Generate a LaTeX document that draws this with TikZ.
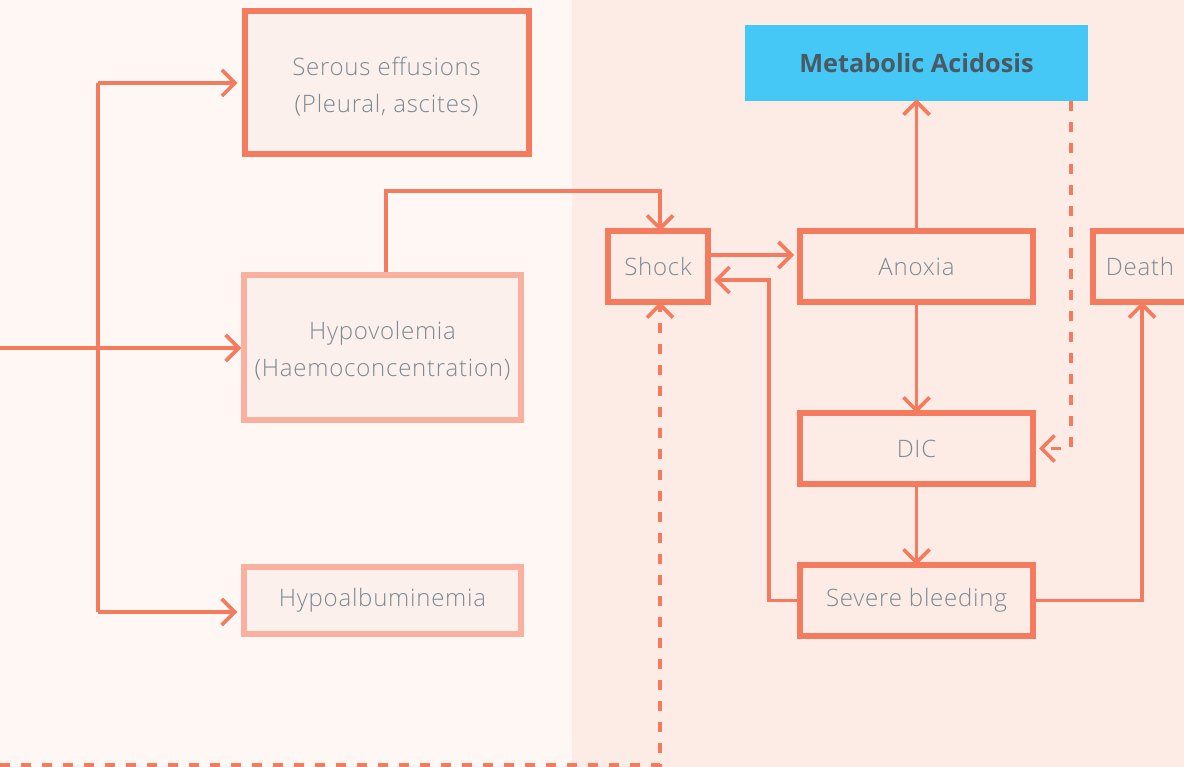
\documentclass[tikz,border=0pt]{standalone}
\usepackage{fontspec}
\setmainfont{Open Sans}
\IfFontExistsTF{Open Sans Light}
  {\newfontfamily\labelfont{Open Sans Light}[LetterSpace=3.2]}
  {\newfontfamily\labelfont{Open Sans}[LetterSpace=2]}
\usetikzlibrary{arrows.meta}
\definecolor{paneL}{HTML}{FEF7F4}
\definecolor{paneR}{HTML}{FDEBE5}
\definecolor{coral}{HTML}{F47B5E}
\definecolor{coralsoft}{HTML}{F9B09F}
\definecolor{boxfill}{HTML}{FCF0EC}
\definecolor{labelgray}{HTML}{7D8A93}
\definecolor{darklabel}{HTML}{4B5964}
\definecolor{skyblue}{HTML}{45C8F5}
% tall strut that pushes two-line labels slightly down inside their boxes
\newcommand\topstrut{\rule{0pt}{25pt}}
\tikzset{
  flowbox/.style={draw=coral, line width=6pt, fill=boxfill, inner sep=0pt,
    text=labelgray, font=\labelfont\fontsize{24}{37}\selectfont, align=center},
  softbox/.style={flowbox, draw=coralsoft, line width=5.5pt},
  link/.style={draw=coral, line width=3.6pt,
    -{Straight Barb[length=13pt,width=26pt,line width=3.6pt]}},
  plainlink/.style={draw=coral, line width=3.6pt},
  dashlink/.style={link, dash pattern=on 10pt off 11pt},
}
\begin{document}
\begin{tikzpicture}[x=1pt,y=-1pt]
  \useasboundingbox (0,0) rectangle (1184,767);
  \clip (0,0) rectangle (1184,767);
  % two background panes
  \fill[paneL] (0,0) rectangle (572,767);
  \fill[paneR] (572,0) rectangle (1184,767);

  % left column
  \node[flowbox, minimum width=284pt, minimum height=143pt] (serous) at (386.5,83)
    {\topstrut Serous effusions\\(Pleural, ascites)};
  \node[softbox, minimum width=277pt, minimum height=145pt] (hypovol) at (382.5,347.5)
    {\topstrut Hypovolemia\\(Haemoconcentration)};
  \node[softbox, minimum width=277pt, minimum height=67pt] (hypoalb) at (382.5,600.5)
    {Hypoalbuminemia};

  % right column
  \node[flowbox, fill=paneR, minimum width=100pt, minimum height=71pt] (shock) at (658,266.5) {Shock};
  \node[flowbox, fill=paneR, minimum width=233pt, minimum height=71pt] (anoxia) at (916.5,266.5) {Anoxia};
  \node[flowbox, fill=paneR, minimum width=94pt, minimum height=71pt] (death) at (1140,266.5) {Death};
  \node[flowbox, fill=paneR, minimum width=233pt, minimum height=71pt] (dic) at (916.5,448.5) {DIC};
  \node[flowbox, fill=paneR, minimum width=233pt, minimum height=71pt] (bleed) at (916.5,600.5) {Severe bleeding};
  \node[draw=none, fill=skyblue, inner sep=0pt, minimum width=343pt, minimum height=76pt,
    text=darklabel, font=\fontsize{25.3}{29}\selectfont\bfseries] (acid) at (916.5,63) {Metabolic Acidosis};

  % free ends
  \coordinate (inlet) at (0,348);
  \coordinate (farleft) at (0,765);

  % branching trunk on the left
  \draw[plainlink] (98,83) -- (98,612);
  \draw[link] (inlet) -- (hypovol.west |- inlet);
  \draw[link] (98,83) -- ([xshift=-4pt]serous.west);
  \draw[link] (98,612) -- ([xshift=-4pt]hypoalb.west |- 0,612);

  % hypovolemia to shock
  \draw[link] (hypovol.north -| 386,0) |- (660,191) -- ([yshift=-3pt]shock.north -| 660,0);

  % shock <-> anoxia loop
  \draw[link] (shock.east |- 0,255) -- ([xshift=-3pt]anoxia.west |- 0,255);
  \draw[link] (bleed.west) -| (769,280) -- ([xshift=3pt]shock.east |- 0,280);

  % vertical chain
  \draw[link] (anoxia.north) -- ([yshift=2pt]acid.south);
  \draw[link] (anoxia.south) -- ([yshift=-3pt]dic.north);
  \draw[link] (dic.south) -- ([yshift=-3pt]bleed.north);
  \draw[link] (bleed.east) -| ([yshift=3pt]death.south -| 1142,0);

  % dashed feedbacks
  \draw[dashlink] (acid.south -| 1071,0) |- ([xshift=3pt]dic.east);
  \draw[dashlink] (farleft) -| ([yshift=3pt]shock.south -| 660,0);
\end{tikzpicture}
\end{document}
